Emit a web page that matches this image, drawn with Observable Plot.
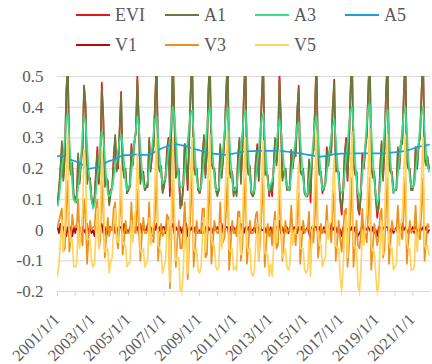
<!DOCTYPE html>
<html>
<head>
<meta charset="utf-8">
<script src="https://cdn.jsdelivr.net/npm/d3@7"></script>
<script src="https://cdn.jsdelivr.net/npm/@observablehq/plot@0.6"></script>
<style>
  html, body { margin: 0; padding: 0; background: #fff; }
  #wrap { position: relative; width: 432px; height: 364px; overflow: hidden; }
  #legend { position: relative; width: 432px; height: 60px; font-family: "Liberation Serif"; font-size: 18px; color: #595959; }
  .item { position: absolute; display: flex; align-items: center; white-space: nowrap; }
  .sw { display: inline-block; width: 34px; height: 2px; margin-right: 5px; }
  #chart svg { display: block; }
</style>
</head>
<body>
<div id="wrap">
  <div id="legend"></div>
  <div id="chart"></div>
</div>
<script>
// ---- data (monthly, 2001-01 .. 2021-12) ----
const seriesNames = ["EVI", "A1", "A3", "A5", "V1", "V3", "V5"];
const seriesColors = ["#E8141C", "#687A3A", "#3EDC86", "#1E9FD8", "#B80A0A", "#F0901C", "#FFD45E"];

const EVI = [
 .09,.13,.20,.27,.17,.24,.44,.54,.23,.19,.20,.11,
 .10,.11,.24,.16,.22,.27,.47,.40,.17,.17,.17,.10,
 .08,.09,.19,.27,.15,.24,.48,.36,.15,.15,.16,.09,
 .13,.14,.24,.30,.20,.20,.33,.45,.20,.19,.19,.12,
 .13,.15,.28,.21,.29,.32,.50,.34,.17,.18,.19,.13,
 .14,.16,.29,.20,.24,.28,.42,.56,.21,.20,.20,.13,
 .15,.17,.26,.30,.11,.34,.58,.36,.18,.19,.19,.08,
 .08,.15,.28,.22,.13,.30,.45,.57,.20,.19,.20,.13,
 .12,.14,.25,.30,.18,.25,.46,.56,.22,.20,.20,.13,
 .12,.13,.27,.19,.23,.31,.45,.57,.19,.18,.19,.12,
 .13,.12,.24,.29,.17,.27,.44,.56,.21,.19,.20,.12,
 .11,.13,.22,.28,.16,.29,.43,.55,.19,.18,.18,.11,
 .15,.11,.20,.29,.22,.28,.52,.34,.17,.18,.20,.14,
 .13,.14,.26,.20,.25,.25,.38,.47,.19,.19,.19,.12,
 .11,.12,.22,.09,.24,.26,.40,.56,.23,.19,.19,.12,
 .14,.15,.27,.21,.26,.27,.40,.49,.20,.19,.19,.10,
 .05,.13,.24,.30,.16,.29,.45,.57,.21,.19,.19,.07,
 .05,.12,.25,.20,.27,.31,.46,.58,.20,.18,.18,.11,
 .04,.08,.20,.28,.17,.27,.45,.56,.21,.19,.19,.12,
 .13,.14,.26,.21,.28,.30,.44,.57,.22,.20,.20,.13,
 .14,.15,.27,.20,.27,.31,.45,.57,.23,.22,.23,.20
];
const A1 = [
 .08,.14,.18,.29,.16,.24,.46,.53,.24,.18,.22,.10,
 .11,.09,.25,.15,.24,.26,.47,.41,.15,.18,.16,.11,
 .08,.11,.18,.25,.16,.23,.46,.37,.14,.17,.16,.08,
 .12,.14,.22,.31,.19,.22,.32,.44,.21,.17,.20,.12,
 .14,.14,.27,.23,.28,.32,.49,.35,.15,.19,.18,.13,
 .14,.14,.30,.19,.26,.27,.42,.54,.22,.19,.21,.12,
 .14,.18,.24,.29,.14,.33,.56,.37,.17,.19,.20,.07,
 .09,.14,.28,.20,.15,.29,.45,.56,.21,.18,.20,.14,
 .12,.15,.23,.31,.17,.27,.45,.56,.21,.21,.19,.13,
 .11,.13,.28,.17,.24,.31,.44,.56,.21,.17,.19,.11,
 .14,.11,.23,.30,.15,.27,.45,.55,.21,.18,.21,.12,
 .11,.12,.23,.26,.17,.28,.43,.55,.18,.19,.17,.12,
 .14,.13,.19,.30,.21,.28,.49,.35,.16,.19,.20,.13,
 .14,.13,.26,.22,.24,.24,.39,.46,.19,.18,.20,.12,
 .11,.11,.23,.12,.23,.26,.39,.55,.24,.18,.19,.13,
 .13,.16,.26,.21,.27,.25,.40,.48,.19,.20,.18,.10,
 .07,.12,.24,.29,.17,.28,.45,.56,.22,.18,.19,.09,
 .06,.12,.23,.21,.26,.31,.45,.58,.21,.17,.19,.11,
 .06,.07,.19,.29,.16,.27,.44,.55,.22,.19,.18,.13,
 .13,.13,.27,.20,.29,.28,.44,.56,.22,.21,.19,.13,
 .13,.16,.26,.20,.28,.30,.45,.56,.23,.21,.24,.20
];
const A3 = [
 .08,.10,.15,.20,.24,.30,.36,.38,.30,.22,.15,.10,
 .09,.10,.14,.18,.24,.32,.37,.35,.28,.20,.14,.10,
 .07,.08,.12,.17,.21,.27,.32,.30,.24,.17,.12,.11,
 .12,.14,.17,.21,.23,.26,.29,.31,.28,.22,.16,.13,
 .14,.15,.19,.23,.28,.33,.37,.34,.27,.20,.15,.14,
 .15,.16,.20,.24,.27,.32,.36,.37,.31,.24,.18,.15,
 .16,.17,.21,.26,.30,.36,.40,.37,.30,.22,.16,.14,
 .14,.15,.19,.24,.29,.34,.38,.39,.32,.24,.17,.14,
 .13,.14,.18,.23,.27,.33,.38,.40,.33,.24,.17,.13,
 .13,.14,.18,.22,.27,.33,.38,.40,.32,.23,.16,.13,
 .13,.14,.18,.23,.27,.32,.37,.39,.32,.24,.17,.13,
 .12,.13,.17,.22,.26,.32,.36,.38,.31,.23,.16,.13,
 .15,.16,.19,.23,.28,.33,.36,.33,.27,.21,.17,.15,
 .13,.14,.18,.22,.26,.30,.34,.35,.30,.23,.16,.13,
 .11,.12,.16,.20,.24,.30,.35,.37,.32,.24,.17,.13,
 .14,.15,.19,.23,.26,.31,.34,.36,.30,.23,.16,.13,
 .12,.13,.18,.23,.28,.34,.39,.40,.33,.24,.16,.12,
 .11,.13,.18,.23,.28,.35,.40,.41,.33,.24,.16,.12,
 .09,.10,.15,.21,.26,.33,.38,.39,.32,.23,.16,.12,
 .13,.14,.18,.23,.28,.33,.38,.40,.33,.24,.17,.14,
 .14,.15,.19,.24,.28,.34,.38,.40,.33,.26,.21,.19
];
const A5 = [
 .240,.241,.242,.242,.240,.238,.235,.233,.231,.229,.227,.226,
 .224,.222,.220,.219,.216,.212,.208,.204,.201,.200,.200,.201,
 .202,.203,.204,.205,.206,.208,.211,.214,.217,.220,.223,.225,
 .226,.228,.230,.232,.234,.237,.239,.241,.242,.243,.244,.244,
 .244,.245,.245,.246,.246,.246,.245,.245,.245,.245,.245,.245,
 .245,.245,.246,.247,.249,.252,.255,.258,.261,.263,.265,.267,
 .269,.271,.273,.275,.277,.279,.280,.280,.280,.279,.278,.277,
 .276,.275,.274,.273,.272,.270,.268,.266,.265,.263,.262,.261,
 .260,.258,.257,.256,.254,.253,.252,.251,.250,.249,.248,.248,
 .247,.247,.246,.246,.246,.245,.245,.245,.246,.247,.248,.249,
 .250,.251,.252,.253,.254,.255,.255,.256,.256,.256,.257,.257,
 .257,.257,.258,.258,.258,.258,.258,.258,.258,.258,.258,.258,
 .258,.258,.258,.258,.258,.258,.258,.257,.257,.256,.256,.255,
 .255,.254,.254,.253,.253,.252,.251,.250,.250,.249,.248,.247,
 .246,.245,.245,.244,.243,.242,.241,.240,.239,.239,.239,.240,
 .240,.241,.242,.243,.244,.245,.246,.247,.247,.248,.248,.249,
 .249,.249,.250,.250,.250,.250,.250,.250,.250,.250,.250,.250,
 .250,.250,.250,.250,.250,.250,.250,.250,.250,.250,.250,.250,
 .250,.250,.250,.250,.250,.250,.250,.251,.251,.252,.252,.253,
 .253,.254,.254,.255,.255,.256,.257,.258,.259,.260,.262,.263,
 .265,.267,.268,.270,.271,.272,.273,.274,.275,.276,.277,.278
];
const V1 = [
 .01,-.01,.02,-.02,.01,.00,-.02,.01,-.01,.01,-.02,.01,
 -.01,.02,-.01,.01,-.02,.01,.00,-.01,.02,-.01,.01,-.01,
 .00,-.02,.01,.02,-.01,.01,.02,-.01,.01,-.02,.00,.01,
 .01,.00,.02,-.01,.01,-.02,.01,.01,-.01,.02,-.01,.00,
 -.01,.01,.01,-.02,.01,.00,.01,-.01,.02,-.01,.01,.00,
 .00,.02,-.01,.01,-.02,.01,.00,.02,-.01,.01,-.01,.01,
 .01,-.01,.02,.01,-.03,.01,.02,-.01,.01,.00,-.01,.01,
 -.01,.01,.00,.02,-.02,.01,.00,.01,-.01,.01,.00,-.01,
 .00,-.01,.02,-.01,.01,-.02,.01,.00,.01,-.01,.01,.00,
 .01,.00,-.01,.02,-.01,.00,.01,.01,-.02,.01,.00,.01,
 -.01,.01,.01,-.01,.02,.00,-.01,.01,.00,.01,-.01,.00,
 .00,.01,-.01,.02,-.01,.01,.00,.00,.01,-.01,.01,-.01,
 .01,-.02,.01,-.01,.01,.00,.03,-.01,.01,-.01,.00,.01,
 -.01,.01,.00,-.02,.01,.01,-.01,.01,.00,.01,-.01,.00,
 .00,.01,-.01,-.03,.01,.00,.01,.01,-.01,.01,.00,-.01,
 .01,-.01,.01,.00,-.01,.02,.00,.01,.01,-.01,.01,.00,
 -.02,.01,.00,.01,-.01,.01,.00,.01,-.01,.01,.00,-.02,
 -.01,.00,.02,-.01,.01,.00,.01,.00,-.01,.01,-.01,.00,
 -.02,.01,.01,-.01,.01,.00,.01,.01,-.01,.00,.01,-.01,
 .00,.01,-.01,.01,-.01,.02,.00,.01,.00,-.01,.01,.00,
 .01,-.01,.01,.00,-.01,.01,.00,.01,.00,.01,-.01,.00
];
const V3 = [
 .01,.03,.05,.07,-.07,-.06,.08,.16,-.07,-.03,.05,.01,
 .01,.01,.10,-.02,-.02,-.05,.10,.05,-.11,-.03,.03,.00,
 .01,.01,.07,.10,-.06,-.03,.16,.06,-.09,-.02,.04,-.02,
 .01,.00,.07,.09,-.03,-.06,.04,.14,-.08,-.03,.03,-.01,
 -.01,.00,.09,-.02,.01,-.01,.13,.00,-.10,-.02,.04,-.01,
 -.01,.00,.09,-.04,-.03,-.04,.06,.19,-.10,-.04,.02,-.02,
 -.01,.00,.05,.04,-.19,-.02,.18,-.01,-.12,-.03,.03,-.06,
 -.06,.00,.09,-.02,-.16,-.04,.07,.18,-.12,-.05,.03,-.01,
 -.01,.00,.07,.07,-.09,-.08,.08,.16,-.11,-.04,.03,.00,
 -.01,-.01,.09,-.03,-.04,-.02,.07,.17,-.13,-.05,.03,-.01,
 .00,-.02,.06,.06,-.10,-.05,.07,.17,-.11,-.05,.03,-.01,
 -.01,.00,.05,.06,-.10,-.03,.07,.17,-.12,-.05,.02,-.02,
 .00,-.05,.01,.06,-.06,-.05,.16,.01,-.10,-.03,.03,-.01,
 .00,.00,.08,-.02,-.01,-.05,.04,.12,-.11,-.04,.03,-.01,
 .00,.00,.06,-.11,.00,-.04,.05,.19,-.09,-.05,.02,-.01,
 .00,.00,.08,-.02,.00,-.04,.06,.13,-.10,-.04,.03,-.03,
 -.07,.00,.06,.07,-.12,-.05,.06,.17,-.12,-.05,.03,-.05,
 -.06,-.01,.07,-.03,-.01,-.04,.06,.17,-.13,-.06,.02,-.01,
 -.05,-.02,.05,.07,-.09,-.06,.07,.17,-.11,-.04,.03,.00,
 .00,.00,.08,-.02,.00,-.03,.06,.17,-.11,-.04,.03,-.01,
 .00,.00,.08,-.04,-.01,-.03,.07,.17,-.10,-.04,.02,.01
];
const V5 = [
 -.15,-.11,-.04,.03,-.07,.00,.21,.31,.00,-.04,-.03,-.12,
 -.12,-.11,.02,-.06,.00,.06,.26,.20,-.03,-.03,-.03,-.10,
 -.12,-.11,-.01,.07,-.06,.03,.27,.15,-.07,-.07,-.06,-.14,
 -.10,-.09,.01,.07,-.03,-.04,.09,.21,-.04,-.05,-.05,-.12,
 -.11,-.10,.03,-.04,.04,.07,.25,.10,-.07,-.07,-.06,-.12,
 -.11,-.09,.04,-.05,-.01,.03,.17,.30,-.05,-.06,-.07,-.14,
 -.12,-.10,-.01,.03,-.17,.06,.30,.08,-.10,-.09,-.09,-.20,
 -.20,-.13,.01,-.05,-.14,.03,.18,.30,-.06,-.07,-.06,-.13,
 -.14,-.12,-.01,.04,-.07,.00,.21,.31,-.03,-.05,-.05,-.12,
 -.13,-.12,.02,-.06,-.02,.06,.20,.32,-.06,-.07,-.06,-.13,
 -.12,-.13,-.01,.04,-.08,.02,.19,.30,-.05,-.07,-.06,-.14,
 -.15,-.13,-.04,.02,-.10,.03,.17,.29,-.07,-.08,-.08,-.15,
 -.11,-.15,-.06,.03,-.04,.02,.26,.08,-.09,-.08,-.06,-.12,
 -.13,-.11,.01,-.05,.00,.00,.13,.22,-.06,-.06,-.06,-.13,
 -.14,-.13,-.03,-.15,.00,.02,.16,.32,-.01,-.05,-.05,-.12,
 -.10,-.09,.03,-.03,.02,.03,.15,.24,-.05,-.06,-.06,-.15,
 -.20,-.12,-.01,.05,-.09,.04,.20,.32,-.04,-.06,-.06,-.18,
 -.20,-.13,.00,-.05,.02,.06,.21,.33,-.05,-.07,-.07,-.14,
 -.21,-.17,-.05,.03,-.08,.02,.20,.31,-.04,-.06,-.06,-.13,
 -.12,-.11,.01,-.05,.02,.04,.18,.31,-.04,-.06,-.06,-.13,
 -.13,-.12,.00,-.07,.00,.04,.18,.30,-.05,-.06,-.05,-.08
];
const yTicks = [-0.2, -0.1, 0, 0.1, 0.2, 0.3, 0.4, 0.5];
const yLabels = ["-0.2", "-0.1", "0", "0.1", "0.2", "0.3", "0.4", "0.5"];
const xLabels = ["2001/1/1", "2003/1/1", "2005/1/1", "2007/1/1", "2009/1/1", "2011/1/1",
                 "2013/1/1", "2015/1/1", "2017/1/1", "2019/1/1", "2021/1/1"];

// ---- build ----
const start = new Date(Date.UTC(2001, 0, 1));
const end = new Date(Date.UTC(2022, 0, 1));
const dates = d3.utcMonth.range(start, end);
const yearTicks = d3.utcYear.range(start, end);
const labelDates = xLabels.map(s => new Date(Date.UTC(+s.split("/")[0], 0, 1)));
const seriesData = [EVI, A1, A3, A5, V1, V3, V5];

// legend
const legend = document.getElementById("legend");
const cols = [76, 165, 255, 345];
seriesNames.forEach((name, i) => {
  const row = i < 4 ? 0 : 1;
  const col = i < 4 ? i : i - 4;
  const el = document.createElement("div");
  el.className = "item";
  el.style.left = cols[col] + "px";
  el.style.top = (row === 0 ? 4 : 34) + "px";
  el.style.height = "22px";
  el.innerHTML = `<span class="sw" style="background:${seriesColors[i]}"></span><span>${name}</span>`;
  legend.appendChild(el);
});

const lineMarks = seriesData.map((vals, k) =>
  Plot.line(vals, {x: (d, i) => dates[i], y: d => d, stroke: seriesColors[k], strokeWidth: 1.7, clip: true})
);

const chart = Plot.plot({
  width: 432,
  height: 304,
  marginTop: 16,
  marginBottom: 73,
  marginLeft: 57,
  marginRight: 2,
  style: {fontFamily: "Liberation Serif", fontSize: "17px", color: "#595959", background: "transparent"},
  x: {type: "utc", domain: [start, end]},
  y: {domain: [-0.2, 0.5]},
  marks: [
    Plot.gridY(yTicks, {stroke: "#d9d9d9", strokeOpacity: 1, strokeWidth: 1}),
    Plot.axisY(yTicks, {tickSize: 0, tickPadding: 14, fill: "#595959", fontSize: 17,
      tickFormat: d => yLabels[yTicks.indexOf(d)]}),
    Plot.axisX(yearTicks, {tickSize: 5, stroke: "#d9d9d9", tickFormat: () => ""}),
    ...lineMarks,
    Plot.text(xLabels, {x: (d, i) => labelDates[i], text: d => d, frameAnchor: "bottom",
      rotate: -45, textAnchor: "end", dx: 3, dy: 29, fill: "#595959", fontSize: 16.5})
  ]
});
document.getElementById("chart").appendChild(chart);
</script>
</body>
</html>
